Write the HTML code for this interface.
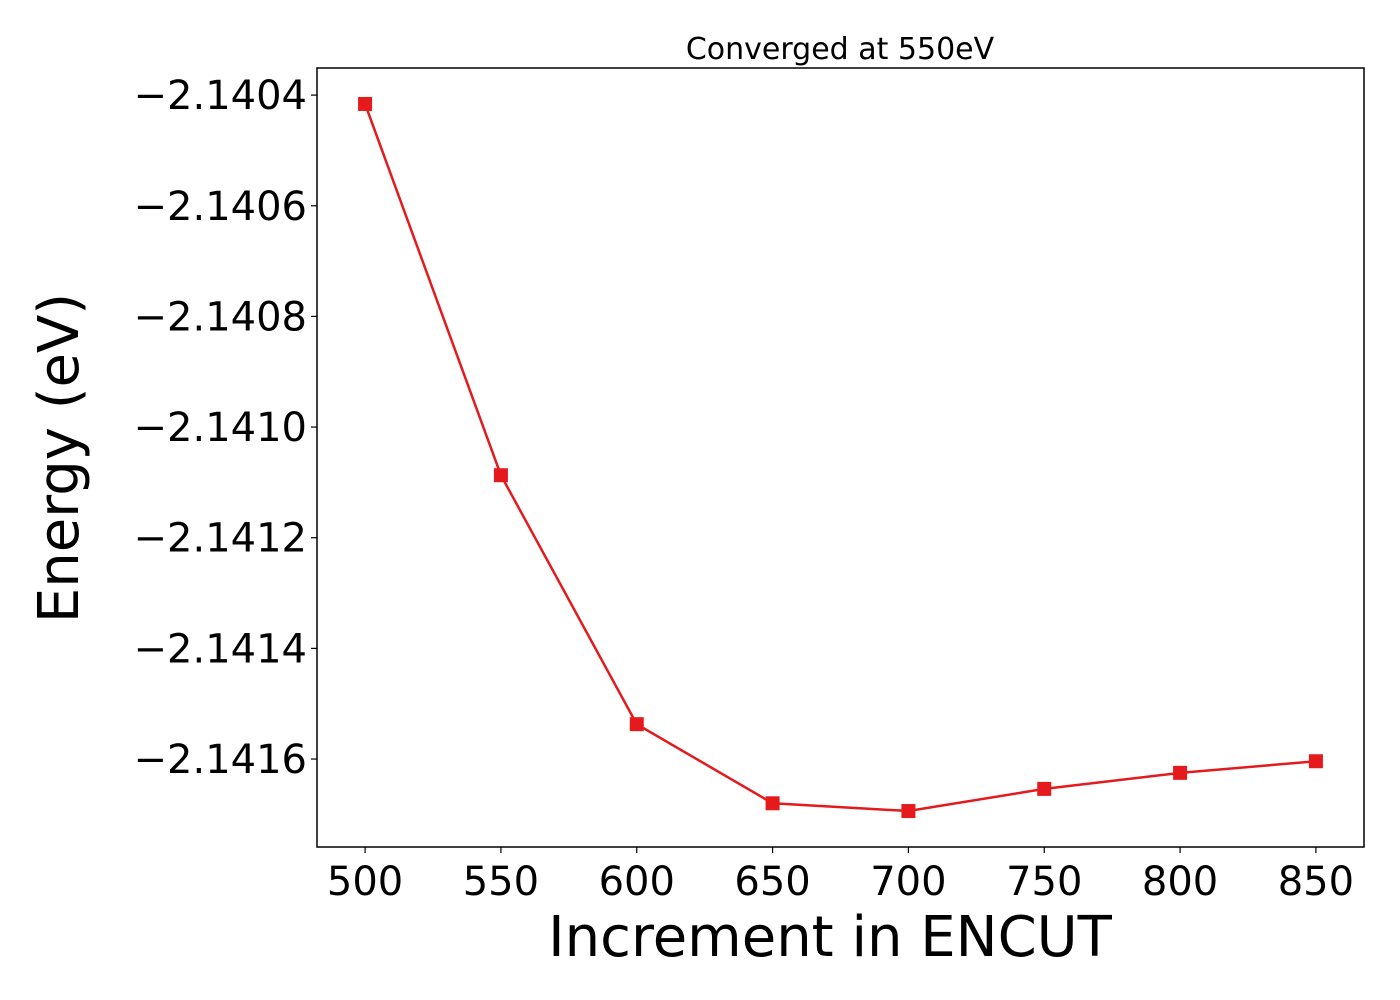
<!DOCTYPE html>
<html><head><meta charset="utf-8"><style>body{margin:0;background:#fff}svg{display:block;font-family:"DejaVu Sans","Liberation Sans",sans-serif}</style></head>
<body>
<svg id="chart" width="1400" height="1000"></svg>
<script>
const categories=[500,550,600,650,700,750,800,850];
const energies=[-2.140416,-2.141087,-2.141537,-2.141680,-2.141694,-2.141654,-2.141625,-2.141604];
const yTicks=[-2.1404,-2.1406,-2.1408,-2.1410,-2.1412,-2.1414,-2.1416];
const xTicks=[500,550,600,650,700,750,800,850];
const L=317,R=1364,T=68,B=847;
const xMin=482.3,xMax=867.7,yMin=-2.141759,yMax=-2.140351;
const sx=v=>L+(v-xMin)/(xMax-xMin)*(R-L);
const sy=v=>B-(v-yMin)/(yMax-yMin)*(B-T);
const svg=document.getElementById('chart');const NS='http://www.w3.org/2000/svg';
function mk(t,a,p){const e=document.createElementNS(NS,t);for(const k in a)e.setAttribute(k,a[k]);(p||svg).appendChild(e);return e;}
const frame=mk('rect',{x:L,y:T,width:R-L,height:B-T,fill:'none',stroke:'#000','stroke-width':1.5});


xTicks.forEach(v=>{const x=sx(v);
const tk=mk('line',{x1:x,x2:x,y1:B,y2:B+6,stroke:'#000','stroke-width':1.2});


const t=mk('text',{x:x,y:B+48,'text-anchor':'middle','font-size':40});t.textContent=v;

});
yTicks.forEach(v=>{const y=sy(v);
const tk=mk('line',{x1:L-6,x2:L,y1:y,y2:y,stroke:'#000','stroke-width':1.2});


const t=mk('text',{x:L-10,y:y+14,'text-anchor':'end','font-size':40});t.textContent='\u2212'+Math.abs(v).toFixed(4);

});
const line=mk('polyline',{points:categories.map((c,i)=>sx(c)+','+sy(energies[i])).join(' '),fill:'none',stroke:'#e41a1c','stroke-width':2.5});


categories.forEach((c,i)=>{const m=mk('rect',{x:sx(c)-7,y:sy(energies[i])-7,width:14,height:14,fill:'#e41a1c'});

});
const ti=mk('text',{x:840,y:59,'text-anchor':'middle','font-size':30});ti.textContent='Converged at 550eV';


const xl=mk('text',{x:830,y:956,'text-anchor':'middle','font-size':56});xl.textContent='Increment in ENCUT';


const yl=mk('text',{x:0,y:0,'text-anchor':'middle','font-size':56,transform:'translate(78,458) rotate(-90)'});yl.textContent='Energy (eV)';


</script>
</body></html>
